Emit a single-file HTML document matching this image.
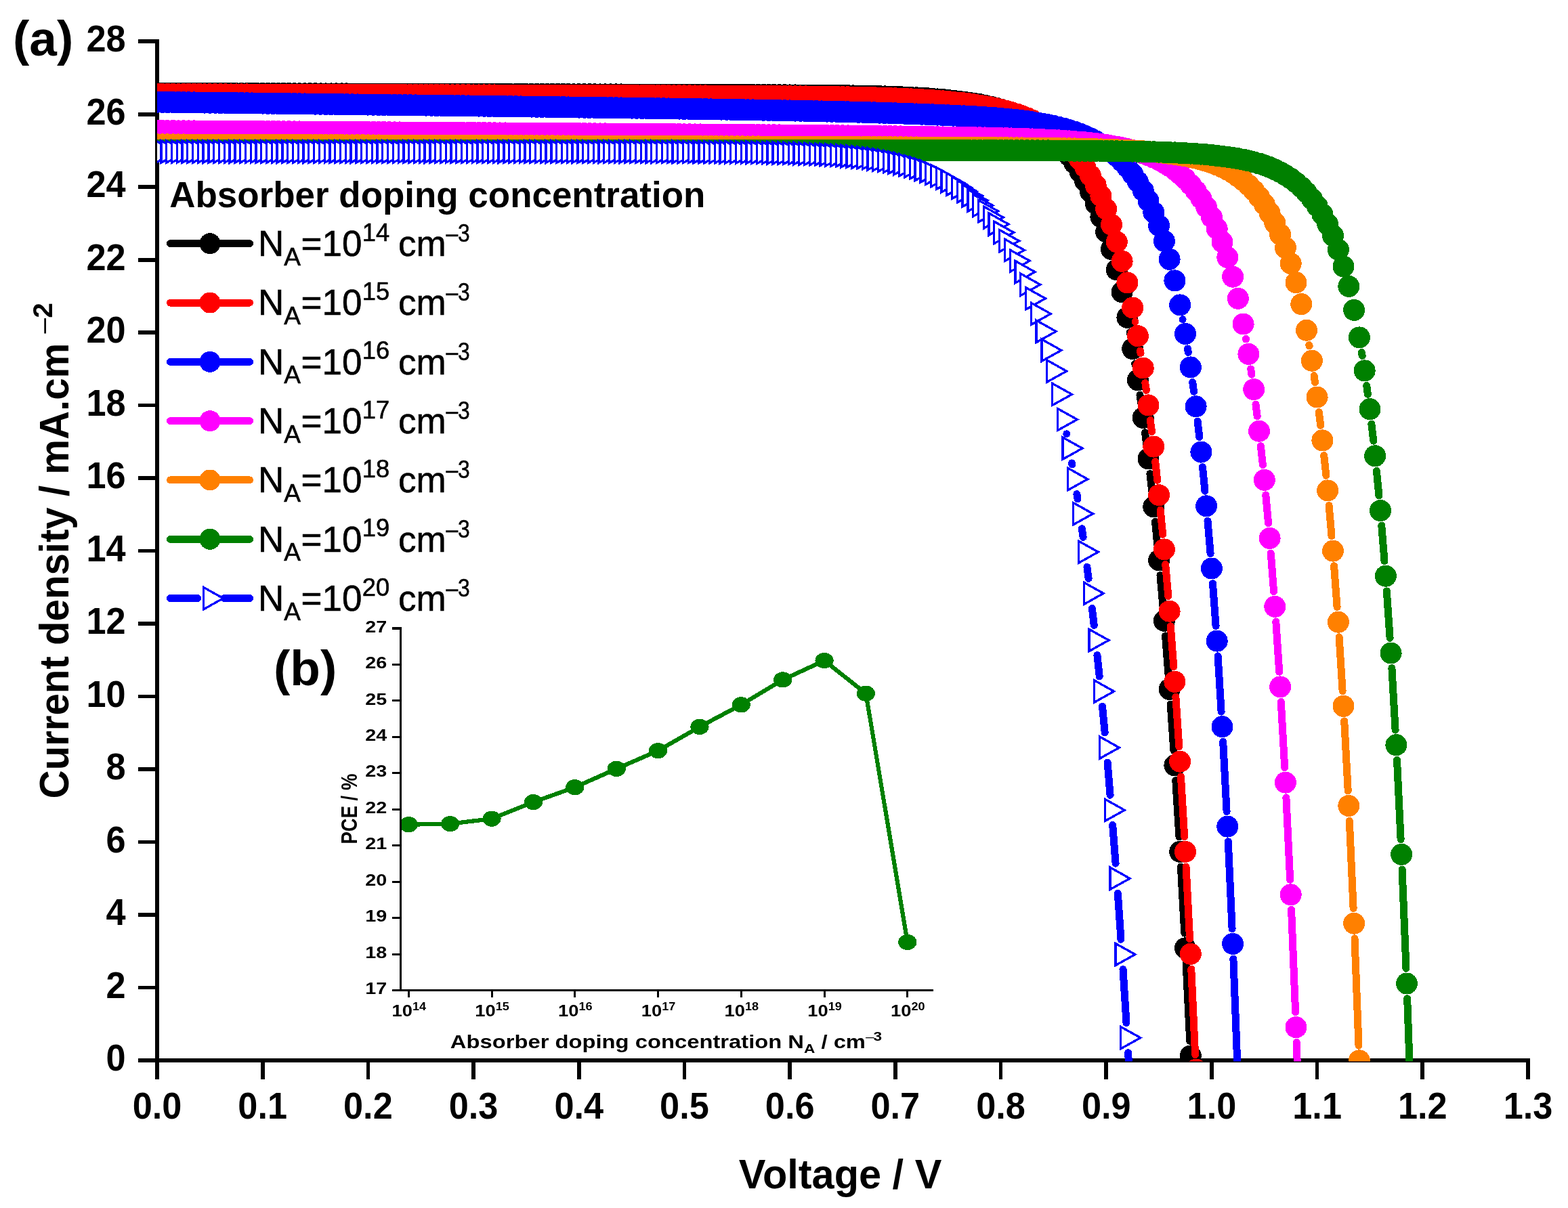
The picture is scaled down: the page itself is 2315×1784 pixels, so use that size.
<!DOCTYPE html>
<html lang="en"><head><meta charset="utf-8"><title>J-V curves: absorber doping concentration</title>
<style>html,body{margin:0;padding:0;background:#fff}body{width:2315px;height:1784px}svg{display:block}text{font-family:"Liberation Sans", sans-serif;fill:#000}.b{font-weight:700}</style>
</head><body>
<svg width="2315" height="1784" viewBox="0 0 2315 1784" shape-rendering="crispEdges">
<defs><clipPath id="cp"><rect x="232" y="0" width="2083" height="1567.4"/></clipPath><clipPath id="ci"><rect x="593" y="900" width="900" height="561"/></clipPath>
<path id="t" d="M-9.7 -16.2L19.3 0L-9.7 16.2Z" fill="#fff" stroke="#00f" stroke-width="3.3" stroke-linejoin="miter"/></defs>
<rect width="2315" height="1784" fill="#fff"/>
<path d="M232 58.4V1594M204 1566H2258.9M204 1458.51H232M204 1351.03H232M204 1243.54H232M204 1136.06H232M204 1028.57H232M204 921.09H232M204 813.6H232M204 706.11H232M204 598.63H232M204 491.14H232M204 383.66H232M204 276.17H232M204 168.69H232M204 61.2H232M387.69 1566V1594M543.38 1566V1594M699.08 1566V1594M854.77 1566V1594M1010.46 1566V1594M1166.15 1566V1594M1321.85 1566V1594M1477.54 1566V1594M1633.23 1566V1594M1788.92 1566V1594M1944.62 1566V1594M2100.31 1566V1594M2256 1566V1594" fill="none" stroke="#000" stroke-width="5.7" stroke-linecap="butt"/>
<g class="b" font-size="56" text-anchor="end">
<text transform="translate(185.6 1581) scale(0.934 1)">0</text>
<text transform="translate(185.6 1473.51) scale(0.934 1)">2</text>
<text transform="translate(185.6 1366.03) scale(0.934 1)">4</text>
<text transform="translate(185.6 1258.54) scale(0.934 1)">6</text>
<text transform="translate(185.6 1151.06) scale(0.934 1)">8</text>
<text transform="translate(185.6 1043.57) scale(0.934 1)">10</text>
<text transform="translate(185.6 936.09) scale(0.934 1)">12</text>
<text transform="translate(185.6 828.6) scale(0.934 1)">14</text>
<text transform="translate(185.6 721.11) scale(0.934 1)">16</text>
<text transform="translate(185.6 613.63) scale(0.934 1)">18</text>
<text transform="translate(185.6 506.14) scale(0.934 1)">20</text>
<text transform="translate(185.6 398.66) scale(0.934 1)">22</text>
<text transform="translate(185.6 291.17) scale(0.934 1)">24</text>
<text transform="translate(185.6 183.69) scale(0.934 1)">26</text>
<text transform="translate(185.6 76.2) scale(0.934 1)">28</text>
</g>
<g class="b" font-size="56" text-anchor="middle">
<text transform="translate(232 1651.9) scale(0.934 1)">0.0</text>
<text transform="translate(387.69 1651.9) scale(0.934 1)">0.1</text>
<text transform="translate(543.38 1651.9) scale(0.934 1)">0.2</text>
<text transform="translate(699.08 1651.9) scale(0.934 1)">0.3</text>
<text transform="translate(854.77 1651.9) scale(0.934 1)">0.4</text>
<text transform="translate(1010.46 1651.9) scale(0.934 1)">0.5</text>
<text transform="translate(1166.15 1651.9) scale(0.934 1)">0.6</text>
<text transform="translate(1321.85 1651.9) scale(0.934 1)">0.7</text>
<text transform="translate(1477.54 1651.9) scale(0.934 1)">0.8</text>
<text transform="translate(1633.23 1651.9) scale(0.934 1)">0.9</text>
<text transform="translate(1788.92 1651.9) scale(0.934 1)">1.0</text>
<text transform="translate(1944.62 1651.9) scale(0.934 1)">1.1</text>
<text transform="translate(2100.31 1651.9) scale(0.934 1)">1.2</text>
<text transform="translate(2256 1651.9) scale(0.934 1)">1.3</text>
</g>
<text class="b" font-size="61" text-anchor="middle" transform="translate(1240.5 1754.5) scale(0.975 1)">Voltage / V</text>
<text class="b" font-size="61" transform="translate(101.2 1179.4) rotate(-90) scale(0.9544 1)">Current density / mA.cm</text>
<text class="b" font-size="40.5" transform="translate(76.9 492.4) rotate(-90)"><tspan font-weight="400">–</tspan>2</text>
<text class="b" font-size="73" x="19" y="82.4">(a)</text>
<g clip-path="url(#cp)">
<path d="M1668.1 490.8L1668.5 493.2M1675.8 537L1676.3 539.5M1683 583.3L1684.6 594.8M1690.5 638.8L1692.7 655.4M1697.9 699.5L1700.9 726.3M1705.5 770.5L1708.9 805.3M1713 849.5L1716.9 894.7M1720.6 939L1724.9 995.7M1728.2 1040L1732.9 1108.3M1735.8 1152.6L1740.9 1235.8M1743.4 1280.1L1748.8 1378.2M1751.1 1422.5L1756.7 1537.3M1758.8 1581.6L1764.6 1715" fill="none" stroke="#000" stroke-width="11" stroke-linecap="round"/>
<path d="M232 137.8h0M239.8 137.8h0M247.6 137.8h0M255.4 137.8h0M263.1 137.8h0M270.9 137.9h0M278.7 137.9h0M286.5 137.9h0M294.3 137.9h0M302.1 137.9h0M309.8 138h0M317.6 138h0M325.4 138h0M333.2 138h0M341 138h0M348.8 138.1h0M356.6 138.1h0M364.3 138.1h0M372.1 138.1h0M379.9 138.1h0M387.7 138.1h0M395.5 138.2h0M403.3 138.2h0M411 138.2h0M418.8 138.2h0M426.6 138.2h0M434.4 138.3h0M442.2 138.3h0M450 138.3h0M457.8 138.3h0M465.5 138.3h0M473.3 138.4h0M481.1 138.4h0M488.9 138.4h0M496.7 138.4h0M504.5 138.4h0M512.2 138.4h0M520 138.5h0M527.8 138.5h0M535.6 138.5h0M543.4 138.5h0M551.2 138.5h0M559 138.6h0M566.7 138.6h0M574.5 138.6h0M582.3 138.6h0M590.1 138.6h0M597.9 138.7h0M605.7 138.7h0M613.4 138.7h0M621.2 138.7h0M629 138.7h0M636.8 138.8h0M644.6 138.8h0M652.4 138.8h0M660.2 138.8h0M667.9 138.8h0M675.7 138.8h0M683.5 138.9h0M691.3 138.9h0M699.1 138.9h0M706.9 138.9h0M714.6 138.9h0M722.4 139h0M730.2 139h0M738 139h0M745.8 139h0M753.6 139h0M761.4 139.1h0M769.1 139.1h0M776.9 139.1h0M784.7 139.1h0M792.5 139.1h0M800.3 139.2h0M808.1 139.2h0M815.8 139.2h0M823.6 139.2h0M831.4 139.2h0M839.2 139.2h0M847 139.3h0M854.8 139.3h0M862.6 139.3h0M870.3 139.3h0M878.1 139.3h0M885.9 139.4h0M893.7 139.4h0M901.5 139.4h0M909.3 139.4h0M917 139.4h0M924.8 139.5h0M932.6 139.5h0M940.4 139.5h0M948.2 139.5h0M956 139.5h0M963.8 139.6h0M971.5 139.6h0M979.3 139.6h0M987.1 139.6h0M994.9 139.7h0M1002.7 139.7h0M1010.5 139.7h0M1018.2 139.7h0M1026 139.7h0M1033.8 139.8h0M1041.6 139.8h0M1049.4 139.8h0M1057.2 139.8h0M1065 139.9h0M1072.7 139.9h0M1080.5 139.9h0M1088.3 140h0M1096.1 140h0M1103.9 140h0M1111.7 140.1h0M1119.4 140.1h0M1127.2 140.1h0M1135 140.2h0M1142.8 140.2h0M1150.6 140.3h0M1158.4 140.3h0M1166.2 140.4h0M1173.9 140.4h0M1181.7 140.5h0M1189.5 140.5h0M1197.3 140.6h0M1205.1 140.7h0M1212.9 140.7h0M1220.6 140.8h0M1228.4 140.9h0M1236.2 141h0M1244 141.1h0M1251.8 141.2h0M1259.6 141.4h0M1267.4 141.5h0M1275.1 141.7h0M1282.9 141.8h0M1290.7 142h0M1298.5 142.2h0M1306.3 142.4h0M1314.1 142.7h0M1321.8 142.9h0M1329.6 143.2h0M1337.4 143.6h0M1345.2 143.9h0M1353 144.3h0M1360.8 144.8h0M1368.6 145.2h0M1376.3 145.8h0M1384.1 146.4h0M1391.9 147h0M1399.7 147.8h0M1407.5 148.6h0M1415.3 149.5h0M1423 150.5h0M1430.8 151.6h0M1438.6 152.8h0M1446.4 154.2h0M1454.2 155.7h0M1462 157.5h0M1469.8 159.4h0M1477.5 161.5h0M1485.3 163.9h0M1493.1 166.6h0M1500.9 169.7h0M1508.7 173.1h0M1516.5 176.9h0M1524.2 181.1h0M1532 185.9h0M1539.8 191.3h0M1547.6 197.4h0M1555.4 204.2h0M1563.2 211.8h0M1571 220.4h0M1578.7 230.1h0M1586.5 241h0M1594.3 253.3h0M1602.1 267.2h0M1609.9 282.9h0M1617.7 300.5h0M1625.4 320.5h0M1633.2 342.5h0M1641 368.1h0M1648.8 398.4h0M1656.6 431.3h0M1664.4 468.9h0M1672.2 515.1h0M1679.9 561.4h0M1687.7 616.8h0M1695.5 677.4h0M1703.3 748.4h0M1711.1 827.4h0M1718.9 916.8h0M1726.6 1017.8h0M1734.4 1130.4h0M1742.2 1257.9h0M1750 1400.3h0M1757.8 1559.4h0M1765.6 1737.2h0" fill="none" stroke="#000" stroke-width="32" stroke-linecap="round"/>
<path d="M1676 475.3L1676 475.3M1683.5 518.1L1684.1 521.6M1690.8 565.5L1692.4 576.5M1698.3 620.5L1700.5 637.5M1705.7 681.6L1708.7 709.2M1713.2 753.3L1716.7 789.3M1720.7 833.5L1724.8 880.5M1728.3 924.8L1732.8 984.7M1735.9 1029L1740.8 1102.6M1743.5 1146.9L1748.7 1235.8M1751.1 1280.1L1756.6 1386.6M1758.8 1431L1764.6 1557.5" fill="none" stroke="#f00" stroke-width="11" stroke-linecap="round"/>
<path d="M232 139.1h0M239.8 139.1h0M247.6 139.1h0M255.4 139.1h0M263.1 139.2h0M270.9 139.2h0M278.7 139.2h0M286.5 139.2h0M294.3 139.2h0M302.1 139.3h0M309.8 139.3h0M317.6 139.3h0M325.4 139.3h0M333.2 139.3h0M341 139.4h0M348.8 139.4h0M356.6 139.4h0M364.3 139.4h0M372.1 139.5h0M379.9 139.5h0M387.7 139.5h0M395.5 139.5h0M403.3 139.5h0M411 139.6h0M418.8 139.6h0M426.6 139.6h0M434.4 139.6h0M442.2 139.6h0M450 139.7h0M457.8 139.7h0M465.5 139.7h0M473.3 139.7h0M481.1 139.8h0M488.9 139.8h0M496.7 139.8h0M504.5 139.8h0M512.2 139.8h0M520 139.9h0M527.8 139.9h0M535.6 139.9h0M543.4 139.9h0M551.2 139.9h0M559 140h0M566.7 140h0M574.5 140h0M582.3 140h0M590.1 140.1h0M597.9 140.1h0M605.7 140.1h0M613.4 140.1h0M621.2 140.1h0M629 140.2h0M636.8 140.2h0M644.6 140.2h0M652.4 140.2h0M660.2 140.2h0M667.9 140.3h0M675.7 140.3h0M683.5 140.3h0M691.3 140.3h0M699.1 140.4h0M706.9 140.4h0M714.6 140.4h0M722.4 140.4h0M730.2 140.4h0M738 140.5h0M745.8 140.5h0M753.6 140.5h0M761.4 140.5h0M769.1 140.6h0M776.9 140.6h0M784.7 140.6h0M792.5 140.6h0M800.3 140.6h0M808.1 140.7h0M815.8 140.7h0M823.6 140.7h0M831.4 140.7h0M839.2 140.8h0M847 140.8h0M854.8 140.8h0M862.6 140.8h0M870.3 140.8h0M878.1 140.9h0M885.9 140.9h0M893.7 140.9h0M901.5 140.9h0M909.3 141h0M917 141h0M924.8 141h0M932.6 141h0M940.4 141.1h0M948.2 141.1h0M956 141.1h0M963.8 141.1h0M971.5 141.2h0M979.3 141.2h0M987.1 141.2h0M994.9 141.3h0M1002.7 141.3h0M1010.5 141.3h0M1018.2 141.3h0M1026 141.4h0M1033.8 141.4h0M1041.6 141.4h0M1049.4 141.5h0M1057.2 141.5h0M1065 141.5h0M1072.7 141.6h0M1080.5 141.6h0M1088.3 141.7h0M1096.1 141.7h0M1103.9 141.7h0M1111.7 141.8h0M1119.4 141.8h0M1127.2 141.9h0M1135 142h0M1142.8 142h0M1150.6 142.1h0M1158.4 142.1h0M1166.2 142.2h0M1173.9 142.3h0M1181.7 142.4h0M1189.5 142.4h0M1197.3 142.5h0M1205.1 142.6h0M1212.9 142.7h0M1220.6 142.8h0M1228.4 142.9h0M1236.2 143.1h0M1244 143.2h0M1251.8 143.3h0M1259.6 143.5h0M1267.4 143.7h0M1275.1 143.8h0M1282.9 144h0M1290.7 144.2h0M1298.5 144.5h0M1306.3 144.7h0M1314.1 145h0M1321.8 145.3h0M1329.6 145.6h0M1337.4 145.9h0M1345.2 146.3h0M1353 146.7h0M1360.8 147.1h0M1368.6 147.6h0M1376.3 148.1h0M1384.1 148.7h0M1391.9 149.3h0M1399.7 149.9h0M1407.5 150.7h0M1415.3 151.5h0M1423 152.3h0M1430.8 153.3h0M1438.6 154.4h0M1446.4 155.6h0M1454.2 156.9h0M1462 158.3h0M1469.8 159.9h0M1477.5 161.7h0M1485.3 163.7h0M1493.1 166h0M1500.9 168.4h0M1508.7 171.2h0M1516.5 174.3h0M1524.2 177.7h0M1532 181.6h0M1539.8 185.9h0M1547.6 190.8h0M1555.4 196.2h0M1563.2 202.4h0M1571 209.2h0M1578.7 217h0M1586.5 225.7h0M1594.3 235.6h0M1602.1 246.7h0M1609.9 259.3h0M1617.7 273.5h0M1625.4 289.6h0M1633.2 308.8h0M1641 331.7h0M1648.8 357.3h0M1656.6 385.8h0M1664.4 417.4h0M1672.2 454.5h0M1679.9 496.2h0M1687.7 543.5h0M1695.5 598.4h0M1703.3 659.6h0M1711.1 731.2h0M1718.9 811.4h0M1726.6 902.7h0M1734.4 1006.8h0M1742.2 1124.7h0M1750 1257.9h0M1757.8 1408.8h0M1765.6 1579.7h0" fill="none" stroke="#f00" stroke-width="32" stroke-linecap="round"/>
<path d="M1746.1 471.7L1746.1 471.7M1753.5 514.9L1754.3 520.4M1760.7 564.4L1762.6 578.3M1768.1 622.3L1770.8 645.5M1775.5 689.7L1779 725.2M1783 769.4L1787.1 817.4M1790.5 861.7L1795.1 924.5M1798.1 968.8L1803.1 1051.1M1805.7 1095.4L1811.1 1198.4M1813.3 1242.8L1819.1 1371.7M1820.9 1416.1L1827 1575.5" fill="none" stroke="#00f" stroke-width="11" stroke-linecap="round"/>
<path d="M232 150.7h0M239.8 150.8h0M247.6 150.9h0M255.4 151h0M263.1 151.1h0M270.9 151.2h0M278.7 151.3h0M286.5 151.4h0M294.3 151.5h0M302.1 151.6h0M309.8 151.7h0M317.6 151.7h0M325.4 151.8h0M333.2 151.9h0M341 152h0M348.8 152.1h0M356.6 152.2h0M364.3 152.3h0M372.1 152.4h0M379.9 152.5h0M387.7 152.6h0M395.5 152.7h0M403.3 152.8h0M411 152.9h0M418.8 153h0M426.6 153.1h0M434.4 153.2h0M442.2 153.3h0M450 153.4h0M457.8 153.5h0M465.5 153.6h0M473.3 153.7h0M481.1 153.8h0M488.9 153.9h0M496.7 154h0M504.5 154.1h0M512.2 154.2h0M520 154.3h0M527.8 154.4h0M535.6 154.5h0M543.4 154.6h0M551.2 154.7h0M559 154.8h0M566.7 154.9h0M574.5 155h0M582.3 155.1h0M590.1 155.2h0M597.9 155.2h0M605.7 155.3h0M613.4 155.4h0M621.2 155.5h0M629 155.6h0M636.8 155.7h0M644.6 155.8h0M652.4 155.9h0M660.2 156h0M667.9 156.1h0M675.7 156.2h0M683.5 156.3h0M691.3 156.4h0M699.1 156.5h0M706.9 156.6h0M714.6 156.7h0M722.4 156.8h0M730.2 156.9h0M738 157h0M745.8 157.1h0M753.6 157.2h0M761.4 157.3h0M769.1 157.4h0M776.9 157.5h0M784.7 157.6h0M792.5 157.7h0M800.3 157.8h0M808.1 157.9h0M815.8 158h0M823.6 158.1h0M831.4 158.2h0M839.2 158.4h0M847 158.5h0M854.8 158.6h0M862.6 158.7h0M870.3 158.8h0M878.1 158.9h0M885.9 159h0M893.7 159.1h0M901.5 159.2h0M909.3 159.3h0M917 159.4h0M924.8 159.5h0M932.6 159.6h0M940.4 159.7h0M948.2 159.8h0M956 160h0M963.8 160.1h0M971.5 160.2h0M979.3 160.3h0M987.1 160.4h0M994.9 160.5h0M1002.7 160.6h0M1010.5 160.8h0M1018.2 160.9h0M1026 161h0M1033.8 161.1h0M1041.6 161.2h0M1049.4 161.4h0M1057.2 161.5h0M1065 161.6h0M1072.7 161.7h0M1080.5 161.9h0M1088.3 162h0M1096.1 162.1h0M1103.9 162.3h0M1111.7 162.4h0M1119.4 162.5h0M1127.2 162.7h0M1135 162.8h0M1142.8 163h0M1150.6 163.1h0M1158.4 163.3h0M1166.2 163.4h0M1173.9 163.6h0M1181.7 163.7h0M1189.5 163.9h0M1197.3 164h0M1205.1 164.2h0M1212.9 164.4h0M1220.6 164.6h0M1228.4 164.7h0M1236.2 164.9h0M1244 165.1h0M1251.8 165.3h0M1259.6 165.5h0M1267.4 165.7h0M1275.1 165.9h0M1282.9 166.1h0M1290.7 166.3h0M1298.5 166.6h0M1306.3 166.8h0M1314.1 167h0M1321.8 167.3h0M1329.6 167.5h0M1337.4 167.8h0M1345.2 168.1h0M1353 168.4h0M1360.8 168.7h0M1368.6 169h0M1376.3 169.3h0M1384.1 169.6h0M1391.9 169.9h0M1399.7 170.3h0M1407.5 170.6h0M1415.3 171h0M1423 171.3h0M1430.8 171.7h0M1438.6 172.2h0M1446.4 172.6h0M1454.2 173.2h0M1462 173.7h0M1469.8 174.3h0M1477.5 174.9h0M1485.3 175.6h0M1493.1 176.4h0M1500.9 177.2h0M1508.7 178.1h0M1516.5 179.1h0M1524.2 180.3h0M1532 181.5h0M1539.8 182.8h0M1547.6 184.3h0M1555.4 185.9h0M1563.2 187.8h0M1571 189.8h0M1578.7 192.1h0M1586.5 194.6h0M1594.3 197.5h0M1602.1 200.7h0M1609.9 204.2h0M1617.7 208.3h0M1625.4 212.9h0M1633.2 218.1h0M1641 224h0M1648.8 230.6h0M1656.6 238.3h0M1664.4 246.9h0M1672.2 256.9h0M1679.9 268.3h0M1687.7 281.3h0M1695.5 296.4h0M1703.3 313.7h0M1711.1 333.2h0M1718.9 356h0M1726.6 382.8h0M1734.4 414.4h0M1742.2 450.4h0M1750 492.9h0M1757.8 542.4h0M1765.6 600.3h0M1773.4 667.6h0M1781.1 747.3h0M1788.9 839.5h0M1796.7 946.6h0M1804.5 1073.2h0M1812.3 1220.6h0M1820.1 1393.9h0M1827.8 1597.7h0" fill="none" stroke="#00f" stroke-width="32" stroke-linecap="round"/>
<path d="M1839.5 500.4L1839.6 501M1846.7 544.9L1847.9 553.1M1854 597.1L1856.2 614.7M1861.4 658.7L1864.4 686.7M1868.8 730.9L1872.6 772.8M1876.3 817L1880.6 873.7M1883.8 917.9L1888.7 992.2M1891.3 1036.5L1896.7 1133.5M1898.9 1177.8L1904.7 1299.2M1906.6 1343.5L1912.6 1494.9M1914.2 1539.3L1920.5 1726.1" fill="none" stroke="#f0f" stroke-width="11" stroke-linecap="round"/>
<path d="M232 193.1h0M239.8 193.1h0M247.6 193.2h0M255.4 193.2h0M263.1 193.3h0M270.9 193.3h0M278.7 193.4h0M286.5 193.4h0M294.3 193.5h0M302.1 193.5h0M309.8 193.6h0M317.6 193.6h0M325.4 193.7h0M333.2 193.7h0M341 193.8h0M348.8 193.8h0M356.6 193.9h0M364.3 193.9h0M372.1 194h0M379.9 194h0M387.7 194.1h0M395.5 194.1h0M403.3 194.2h0M411 194.2h0M418.8 194.3h0M426.6 194.3h0M434.4 194.4h0M442.2 194.4h0M450 194.5h0M457.8 194.5h0M465.5 194.6h0M473.3 194.6h0M481.1 194.7h0M488.9 194.7h0M496.7 194.8h0M504.5 194.8h0M512.2 194.9h0M520 194.9h0M527.8 195h0M535.6 195h0M543.4 195.1h0M551.2 195.1h0M559 195.2h0M566.7 195.2h0M574.5 195.3h0M582.3 195.4h0M590.1 195.4h0M597.9 195.5h0M605.7 195.5h0M613.4 195.6h0M621.2 195.6h0M629 195.7h0M636.8 195.7h0M644.6 195.8h0M652.4 195.8h0M660.2 195.9h0M667.9 195.9h0M675.7 196h0M683.5 196h0M691.3 196.1h0M699.1 196.1h0M706.9 196.2h0M714.6 196.2h0M722.4 196.3h0M730.2 196.3h0M738 196.4h0M745.8 196.4h0M753.6 196.5h0M761.4 196.5h0M769.1 196.6h0M776.9 196.6h0M784.7 196.7h0M792.5 196.7h0M800.3 196.8h0M808.1 196.8h0M815.8 196.9h0M823.6 196.9h0M831.4 197h0M839.2 197h0M847 197.1h0M854.8 197.2h0M862.6 197.2h0M870.3 197.3h0M878.1 197.3h0M885.9 197.4h0M893.7 197.4h0M901.5 197.5h0M909.3 197.5h0M917 197.6h0M924.8 197.6h0M932.6 197.7h0M940.4 197.8h0M948.2 197.8h0M956 197.9h0M963.8 197.9h0M971.5 198h0M979.3 198h0M987.1 198.1h0M994.9 198.1h0M1002.7 198.2h0M1010.5 198.3h0M1018.2 198.3h0M1026 198.4h0M1033.8 198.4h0M1041.6 198.5h0M1049.4 198.6h0M1057.2 198.6h0M1065 198.7h0M1072.7 198.7h0M1080.5 198.8h0M1088.3 198.9h0M1096.1 198.9h0M1103.9 199h0M1111.7 199.1h0M1119.4 199.1h0M1127.2 199.2h0M1135 199.3h0M1142.8 199.3h0M1150.6 199.4h0M1158.4 199.5h0M1166.2 199.5h0M1173.9 199.6h0M1181.7 199.7h0M1189.5 199.8h0M1197.3 199.8h0M1205.1 199.9h0M1212.9 200h0M1220.6 200.1h0M1228.4 200.1h0M1236.2 200.2h0M1244 200.3h0M1251.8 200.4h0M1259.6 200.5h0M1267.4 200.6h0M1275.1 200.7h0M1282.9 200.8h0M1290.7 200.9h0M1298.5 201h0M1306.3 201.1h0M1314.1 201.2h0M1321.8 201.3h0M1329.6 201.4h0M1337.4 201.5h0M1345.2 201.6h0M1353 201.7h0M1360.8 201.9h0M1368.6 202h0M1376.3 202.1h0M1384.1 202.2h0M1391.9 202.4h0M1399.7 202.5h0M1407.5 202.6h0M1415.3 202.8h0M1423 202.9h0M1430.8 203h0M1438.6 203.1h0M1446.4 203.3h0M1454.2 203.4h0M1462 203.6h0M1469.8 203.8h0M1477.5 204h0M1485.3 204.2h0M1493.1 204.4h0M1500.9 204.6h0M1508.7 204.9h0M1516.5 205.1h0M1524.2 205.4h0M1532 205.8h0M1539.8 206.1h0M1547.6 206.5h0M1555.4 206.9h0M1563.2 207.3h0M1571 207.8h0M1578.7 208.4h0M1586.5 209h0M1594.3 209.6h0M1602.1 210.3h0M1609.9 211.1h0M1617.7 212h0M1625.4 213h0M1633.2 214.1h0M1641 215.4h0M1648.8 216.7h0M1656.6 218.3h0M1664.4 220h0M1672.2 222h0M1679.9 224.2h0M1687.7 226.7h0M1695.5 229.5h0M1703.3 232.7h0M1711.1 236.4h0M1718.9 240.6h0M1726.6 245.3h0M1734.4 250.8h0M1742.2 257h0M1750 264.2h0M1757.8 272.5h0M1765.6 282h0M1773.4 293h0M1781.1 305.8h0M1788.9 320.5h0M1796.7 337.7h0M1804.5 357.2h0M1812.3 380.1h0M1820.1 408.7h0M1827.8 440.8h0M1835.6 478.5h0M1843.4 522.9h0M1851.2 575.1h0M1859 636.7h0M1866.8 708.8h0M1874.6 794.9h0M1882.3 895.8h0M1890.1 1014.4h0M1897.9 1155.6h0M1905.7 1321.3h0M1913.5 1517.1h0M1921.3 1748.3h0" fill="none" stroke="#f0f" stroke-width="32" stroke-linecap="round"/>
<path d="M1932.8 509.6L1933.1 510.9M1940 554.7L1941.4 564.6M1947.3 608.6L1949.7 628.4M1954.7 672.5L1957.9 702.3M1962.1 746.5L1966 791.5M1969.6 835.8L1974.1 896.5M1977.1 940.8L1982.1 1020.6M1984.7 1064.9L1990.2 1167.8M1992.3 1212.2L1998.1 1341.5M2000 1385.9L2006 1544.1M2007.6 1588.5L2013.9 1780.4" fill="none" stroke="#ff8000" stroke-width="11" stroke-linecap="round"/>
<path d="M232 213.3h0M239.8 213.3h0M247.6 213.3h0M255.4 213.4h0M263.1 213.4h0M270.9 213.4h0M278.7 213.5h0M286.5 213.5h0M294.3 213.5h0M302.1 213.5h0M309.8 213.6h0M317.6 213.6h0M325.4 213.6h0M333.2 213.6h0M341 213.7h0M348.8 213.7h0M356.6 213.7h0M364.3 213.7h0M372.1 213.8h0M379.9 213.8h0M387.7 213.8h0M395.5 213.9h0M403.3 213.9h0M411 213.9h0M418.8 213.9h0M426.6 214h0M434.4 214h0M442.2 214h0M450 214h0M457.8 214.1h0M465.5 214.1h0M473.3 214.1h0M481.1 214.2h0M488.9 214.2h0M496.7 214.2h0M504.5 214.2h0M512.2 214.3h0M520 214.3h0M527.8 214.3h0M535.6 214.3h0M543.4 214.4h0M551.2 214.4h0M559 214.4h0M566.7 214.5h0M574.5 214.5h0M582.3 214.5h0M590.1 214.5h0M597.9 214.6h0M605.7 214.6h0M613.4 214.6h0M621.2 214.6h0M629 214.7h0M636.8 214.7h0M644.6 214.7h0M652.4 214.8h0M660.2 214.8h0M667.9 214.8h0M675.7 214.8h0M683.5 214.9h0M691.3 214.9h0M699.1 214.9h0M706.9 214.9h0M714.6 215h0M722.4 215h0M730.2 215h0M738 215.1h0M745.8 215.1h0M753.6 215.1h0M761.4 215.1h0M769.1 215.2h0M776.9 215.2h0M784.7 215.2h0M792.5 215.3h0M800.3 215.3h0M808.1 215.3h0M815.8 215.3h0M823.6 215.4h0M831.4 215.4h0M839.2 215.4h0M847 215.4h0M854.8 215.5h0M862.6 215.5h0M870.3 215.5h0M878.1 215.6h0M885.9 215.6h0M893.7 215.6h0M901.5 215.6h0M909.3 215.7h0M917 215.7h0M924.8 215.7h0M932.6 215.8h0M940.4 215.8h0M948.2 215.8h0M956 215.8h0M963.8 215.9h0M971.5 215.9h0M979.3 215.9h0M987.1 215.9h0M994.9 216h0M1002.7 216h0M1010.5 216h0M1018.2 216.1h0M1026 216.1h0M1033.8 216.1h0M1041.6 216.1h0M1049.4 216.2h0M1057.2 216.2h0M1065 216.2h0M1072.7 216.3h0M1080.5 216.3h0M1088.3 216.3h0M1096.1 216.3h0M1103.9 216.4h0M1111.7 216.4h0M1119.4 216.4h0M1127.2 216.5h0M1135 216.5h0M1142.8 216.5h0M1150.6 216.6h0M1158.4 216.6h0M1166.2 216.6h0M1173.9 216.6h0M1181.7 216.7h0M1189.5 216.7h0M1197.3 216.7h0M1205.1 216.8h0M1212.9 216.8h0M1220.6 216.8h0M1228.4 216.9h0M1236.2 216.9h0M1244 216.9h0M1251.8 217h0M1259.6 217h0M1267.4 217h0M1275.1 217.1h0M1282.9 217.1h0M1290.7 217.1h0M1298.5 217.2h0M1306.3 217.2h0M1314.1 217.2h0M1321.8 217.3h0M1329.6 217.3h0M1337.4 217.4h0M1345.2 217.4h0M1353 217.4h0M1360.8 217.5h0M1368.6 217.5h0M1376.3 217.5h0M1384.1 217.6h0M1391.9 217.6h0M1399.7 217.7h0M1407.5 217.7h0M1415.3 217.8h0M1423 217.8h0M1430.8 217.8h0M1438.6 217.9h0M1446.4 217.9h0M1454.2 218h0M1462 218h0M1469.8 218.1h0M1477.5 218.2h0M1485.3 218.2h0M1493.1 218.3h0M1500.9 218.3h0M1508.7 218.4h0M1516.5 218.5h0M1524.2 218.6h0M1532 218.7h0M1539.8 218.7h0M1547.6 218.8h0M1555.4 218.9h0M1563.2 219.1h0M1571 219.2h0M1578.7 219.3h0M1586.5 219.4h0M1594.3 219.6h0M1602.1 219.8h0M1609.9 220h0M1617.7 220.2h0M1625.4 220.4h0M1633.2 220.6h0M1641 220.9h0M1648.8 221.2h0M1656.6 221.5h0M1664.4 221.9h0M1672.2 222.3h0M1679.9 222.7h0M1687.7 223.3h0M1695.5 223.8h0M1703.3 224.5h0M1711.1 225.2h0M1718.9 226h0M1726.6 226.9h0M1734.4 228h0M1742.2 229.1h0M1750 230.5h0M1757.8 232h0M1765.6 233.7h0M1773.4 235.7h0M1781.1 237.9h0M1788.9 240.5h0M1796.7 243.5h0M1804.5 246.9h0M1812.3 250.8h0M1820.1 255.3h0M1827.8 260.5h0M1835.6 266.5h0M1843.4 273.5h0M1851.2 281.5h0M1859 290.9h0M1866.8 301.8h0M1874.6 314.4h0M1882.3 329.2h0M1890.1 346.4h0M1897.9 365.9h0M1905.7 389.2h0M1913.5 417.2h0M1921.3 449.2h0M1929 487.7h0M1936.8 532.7h0M1944.6 586.5h0M1952.4 650.4h0M1960.2 724.4h0M1968 813.6h0M1975.8 918.7h0M1983.5 1042.8h0M1991.3 1190h0M1999.1 1363.7h0M2006.9 1566.3h0M2014.7 1802.6h0" fill="none" stroke="#ff8000" stroke-width="32" stroke-linecap="round"/>
<path d="M2010.4 520.4L2011.2 525.5M2017.7 569.4L2019.4 582.2M2024.9 626.2L2027.8 651.2M2032.4 695.4L2035.9 732M2039.8 776.2L2044 828.6M2047.3 872.9L2052.1 942.3M2054.9 986.6L2060.1 1078.1M2062.5 1122.4L2068.1 1239.6M2070.1 1284L2076 1430.3M2077.7 1474.7L2084 1655.4" fill="none" stroke="#008000" stroke-width="11" stroke-linecap="round"/>
<path d="M232 221.9h0M239.8 221.9h0M247.6 221.9h0M255.4 221.9h0M263.1 221.9h0M270.9 221.9h0M278.7 221.9h0M286.5 221.9h0M294.3 221.9h0M302.1 221.9h0M309.8 221.9h0M317.6 221.9h0M325.4 221.9h0M333.2 221.9h0M341 221.9h0M348.8 221.9h0M356.6 221.9h0M364.3 221.9h0M372.1 221.9h0M379.9 221.9h0M387.7 221.9h0M395.5 221.9h0M403.3 221.9h0M411 221.9h0M418.8 221.9h0M426.6 221.9h0M434.4 221.9h0M442.2 221.9h0M450 221.9h0M457.8 221.9h0M465.5 221.9h0M473.3 221.9h0M481.1 221.9h0M488.9 221.9h0M496.7 221.9h0M504.5 221.9h0M512.2 221.9h0M520 221.9h0M527.8 221.9h0M535.6 221.9h0M543.4 221.9h0M551.2 221.9h0M559 221.9h0M566.7 221.9h0M574.5 221.9h0M582.3 221.9h0M590.1 221.9h0M597.9 221.9h0M605.7 221.9h0M613.4 221.9h0M621.2 221.9h0M629 221.9h0M636.8 221.9h0M644.6 221.9h0M652.4 221.9h0M660.2 221.9h0M667.9 221.9h0M675.7 221.9h0M683.5 221.9h0M691.3 221.9h0M699.1 221.9h0M706.9 221.9h0M714.6 221.9h0M722.4 221.9h0M730.2 221.9h0M738 221.9h0M745.8 221.9h0M753.6 221.9h0M761.4 221.9h0M769.1 221.9h0M776.9 221.9h0M784.7 221.9h0M792.5 221.9h0M800.3 221.9h0M808.1 221.9h0M815.8 221.9h0M823.6 221.9h0M831.4 221.9h0M839.2 221.9h0M847 221.9h0M854.8 221.9h0M862.6 221.9h0M870.3 221.9h0M878.1 221.9h0M885.9 221.9h0M893.7 221.9h0M901.5 221.9h0M909.3 221.9h0M917 221.9h0M924.8 221.9h0M932.6 221.9h0M940.4 221.9h0M948.2 221.9h0M956 221.9h0M963.8 221.9h0M971.5 221.9h0M979.3 221.9h0M987.1 221.9h0M994.9 221.9h0M1002.7 221.9h0M1010.5 221.9h0M1018.2 221.9h0M1026 221.9h0M1033.8 221.9h0M1041.6 221.9h0M1049.4 221.9h0M1057.2 221.9h0M1065 221.9h0M1072.7 221.9h0M1080.5 221.9h0M1088.3 221.9h0M1096.1 221.9h0M1103.9 221.9h0M1111.7 221.9h0M1119.4 221.9h0M1127.2 221.9h0M1135 221.9h0M1142.8 221.9h0M1150.6 221.9h0M1158.4 221.9h0M1166.2 221.9h0M1173.9 221.9h0M1181.7 221.9h0M1189.5 221.9h0M1197.3 221.9h0M1205.1 221.9h0M1212.9 221.9h0M1220.6 221.9h0M1228.4 221.9h0M1236.2 221.9h0M1244 221.9h0M1251.8 221.9h0M1259.6 221.9h0M1267.4 221.9h0M1275.1 221.9h0M1282.9 221.9h0M1290.7 221.9h0M1298.5 221.9h0M1306.3 221.9h0M1314.1 221.9h0M1321.8 222h0M1329.6 222h0M1337.4 222h0M1345.2 222h0M1353 222h0M1360.8 222h0M1368.6 222h0M1376.3 222h0M1384.1 222h0M1391.9 222h0M1399.7 222h0M1407.5 222h0M1415.3 222h0M1423 222.1h0M1430.8 222.1h0M1438.6 222.1h0M1446.4 222.1h0M1454.2 222.1h0M1462 222.1h0M1469.8 222.1h0M1477.5 222.2h0M1485.3 222.2h0M1493.1 222.2h0M1500.9 222.2h0M1508.7 222.3h0M1516.5 222.3h0M1524.2 222.3h0M1532 222.3h0M1539.8 222.4h0M1547.6 222.4h0M1555.4 222.5h0M1563.2 222.5h0M1571 222.6h0M1578.7 222.6h0M1586.5 222.7h0M1594.3 222.7h0M1602.1 222.8h0M1609.9 222.8h0M1617.7 222.9h0M1625.4 223h0M1633.2 223.1h0M1641 223.2h0M1648.8 223.3h0M1656.6 223.4h0M1664.4 223.5h0M1672.2 223.6h0M1679.9 223.8h0M1687.7 224h0M1695.5 224.1h0M1703.3 224.3h0M1711.1 224.6h0M1718.9 224.8h0M1726.6 225.1h0M1734.4 225.4h0M1742.2 225.8h0M1750 226.2h0M1757.8 226.6h0M1765.6 227.1h0M1773.4 227.6h0M1781.1 228.3h0M1788.9 229h0M1796.7 229.8h0M1804.5 230.7h0M1812.3 231.7h0M1820.1 232.9h0M1827.8 234.2h0M1835.6 235.7h0M1843.4 237.4h0M1851.2 239.3h0M1859 241.5h0M1866.8 244.1h0M1874.6 247h0M1882.3 250.3h0M1890.1 254.2h0M1897.9 258.6h0M1905.7 263.7h0M1913.5 269.6h0M1921.3 276.4h0M1929 284.4h0M1936.8 293.5h0M1944.6 304.2h0M1952.4 316.6h0M1960.2 331.1h0M1968 348h0M1975.8 368.6h0M1983.5 393.4h0M1991.3 422.9h0M1999.1 457.9h0M2006.9 498.4h0M2014.7 547.4h0M2022.5 604.2h0M2030.2 673.3h0M2038 754.1h0M2045.8 850.7h0M2053.6 964.5h0M2061.4 1100.2h0M2069.2 1261.8h0M2077 1452.5h0M2084.7 1677.6h0" fill="none" stroke="#008000" stroke-width="32" stroke-linecap="round"/>
<path d="M1574.8 640.8L1574.8 640.8M1582.5 684L1582.8 685.8M1589.9 729.6L1591 736.8M1597.3 780.7L1599.1 793.3M1604.9 837.3L1607.1 854.3M1612.4 898.4L1615.2 923.4M1619.9 967.6L1623.2 998.9M1627.5 1043.1L1631.2 1082M1635.1 1126.2L1639.1 1174.3M1642.7 1218.5L1647.1 1275.2M1650.3 1319.4L1655 1387.3M1658 1431.6L1663 1510.5M1665.6 1554.8L1670.9 1645.7" fill="none" stroke="#00f" stroke-width="11" stroke-linecap="round"/>
<g><use href="#t" x="232" y="224.1"/><use href="#t" x="239.8" y="224.1"/><use href="#t" x="247.6" y="224.1"/><use href="#t" x="255.4" y="224.1"/><use href="#t" x="263.1" y="224.1"/><use href="#t" x="270.9" y="224.1"/><use href="#t" x="278.7" y="224.1"/><use href="#t" x="286.5" y="224.1"/><use href="#t" x="294.3" y="224.1"/><use href="#t" x="302.1" y="224.1"/><use href="#t" x="309.8" y="224.1"/><use href="#t" x="317.6" y="224.1"/><use href="#t" x="325.4" y="224.1"/><use href="#t" x="333.2" y="224.1"/><use href="#t" x="341" y="224.1"/><use href="#t" x="348.8" y="224.1"/><use href="#t" x="356.6" y="224.1"/><use href="#t" x="364.3" y="224.1"/><use href="#t" x="372.1" y="224.1"/><use href="#t" x="379.9" y="224.1"/><use href="#t" x="387.7" y="224.1"/><use href="#t" x="395.5" y="224.1"/><use href="#t" x="403.3" y="224.1"/><use href="#t" x="411" y="224.1"/><use href="#t" x="418.8" y="224.1"/><use href="#t" x="426.6" y="224.1"/><use href="#t" x="434.4" y="224.1"/><use href="#t" x="442.2" y="224.1"/><use href="#t" x="450" y="224.1"/><use href="#t" x="457.8" y="224.1"/><use href="#t" x="465.5" y="224.1"/><use href="#t" x="473.3" y="224.1"/><use href="#t" x="481.1" y="224.1"/><use href="#t" x="488.9" y="224.1"/><use href="#t" x="496.7" y="224.1"/><use href="#t" x="504.5" y="224.1"/><use href="#t" x="512.2" y="224.1"/><use href="#t" x="520" y="224.1"/><use href="#t" x="527.8" y="224.1"/><use href="#t" x="535.6" y="224.1"/><use href="#t" x="543.4" y="224.1"/><use href="#t" x="551.2" y="224.1"/><use href="#t" x="559" y="224.1"/><use href="#t" x="566.7" y="224.1"/><use href="#t" x="574.5" y="224.1"/><use href="#t" x="582.3" y="224.1"/><use href="#t" x="590.1" y="224.1"/><use href="#t" x="597.9" y="224.1"/><use href="#t" x="605.7" y="224.1"/><use href="#t" x="613.4" y="224.1"/><use href="#t" x="621.2" y="224.1"/><use href="#t" x="629" y="224.1"/><use href="#t" x="636.8" y="224.1"/><use href="#t" x="644.6" y="224.1"/><use href="#t" x="652.4" y="224.1"/><use href="#t" x="660.2" y="224.1"/><use href="#t" x="667.9" y="224.1"/><use href="#t" x="675.7" y="224.1"/><use href="#t" x="683.5" y="224.1"/><use href="#t" x="691.3" y="224.1"/><use href="#t" x="699.1" y="224.1"/><use href="#t" x="706.9" y="224.1"/><use href="#t" x="714.6" y="224.1"/><use href="#t" x="722.4" y="224.1"/><use href="#t" x="730.2" y="224.1"/><use href="#t" x="738" y="224.1"/><use href="#t" x="745.8" y="224.1"/><use href="#t" x="753.6" y="224.1"/><use href="#t" x="761.4" y="224.1"/><use href="#t" x="769.1" y="224.1"/><use href="#t" x="776.9" y="224.1"/><use href="#t" x="784.7" y="224.1"/><use href="#t" x="792.5" y="224.1"/><use href="#t" x="800.3" y="224.1"/><use href="#t" x="808.1" y="224.2"/><use href="#t" x="815.8" y="224.2"/><use href="#t" x="823.6" y="224.2"/><use href="#t" x="831.4" y="224.2"/><use href="#t" x="839.2" y="224.2"/><use href="#t" x="847" y="224.2"/><use href="#t" x="854.8" y="224.2"/><use href="#t" x="862.6" y="224.2"/><use href="#t" x="870.3" y="224.2"/><use href="#t" x="878.1" y="224.2"/><use href="#t" x="885.9" y="224.2"/><use href="#t" x="893.7" y="224.2"/><use href="#t" x="901.5" y="224.2"/><use href="#t" x="909.3" y="224.2"/><use href="#t" x="917" y="224.2"/><use href="#t" x="924.8" y="224.2"/><use href="#t" x="932.6" y="224.2"/><use href="#t" x="940.4" y="224.2"/><use href="#t" x="948.2" y="224.3"/><use href="#t" x="956" y="224.3"/><use href="#t" x="963.8" y="224.3"/><use href="#t" x="971.5" y="224.3"/><use href="#t" x="979.3" y="224.3"/><use href="#t" x="987.1" y="224.3"/><use href="#t" x="994.9" y="224.4"/><use href="#t" x="1002.7" y="224.4"/><use href="#t" x="1010.5" y="224.4"/><use href="#t" x="1018.2" y="224.4"/><use href="#t" x="1026" y="224.5"/><use href="#t" x="1033.8" y="224.5"/><use href="#t" x="1041.6" y="224.6"/><use href="#t" x="1049.4" y="224.6"/><use href="#t" x="1057.2" y="224.6"/><use href="#t" x="1065" y="224.7"/><use href="#t" x="1072.7" y="224.8"/><use href="#t" x="1080.5" y="224.8"/><use href="#t" x="1088.3" y="224.9"/><use href="#t" x="1096.1" y="225"/><use href="#t" x="1103.9" y="225.1"/><use href="#t" x="1111.7" y="225.2"/><use href="#t" x="1119.4" y="225.3"/><use href="#t" x="1127.2" y="225.4"/><use href="#t" x="1135" y="225.6"/><use href="#t" x="1142.8" y="225.7"/><use href="#t" x="1150.6" y="225.9"/><use href="#t" x="1158.4" y="226.1"/><use href="#t" x="1166.2" y="226.3"/><use href="#t" x="1173.9" y="226.5"/><use href="#t" x="1181.7" y="226.7"/><use href="#t" x="1189.5" y="227"/><use href="#t" x="1197.3" y="227.3"/><use href="#t" x="1205.1" y="227.6"/><use href="#t" x="1212.9" y="228"/><use href="#t" x="1220.6" y="228.4"/><use href="#t" x="1228.4" y="228.9"/><use href="#t" x="1236.2" y="229.4"/><use href="#t" x="1244" y="229.9"/><use href="#t" x="1251.8" y="230.6"/><use href="#t" x="1259.6" y="231.2"/><use href="#t" x="1267.4" y="232"/><use href="#t" x="1275.1" y="232.8"/><use href="#t" x="1282.9" y="233.7"/><use href="#t" x="1290.7" y="234.8"/><use href="#t" x="1298.5" y="235.9"/><use href="#t" x="1306.3" y="237.1"/><use href="#t" x="1314.1" y="238.5"/><use href="#t" x="1321.8" y="240"/><use href="#t" x="1329.6" y="241.7"/><use href="#t" x="1337.4" y="243.6"/><use href="#t" x="1345.2" y="245.6"/><use href="#t" x="1353" y="247.9"/><use href="#t" x="1360.8" y="250.4"/><use href="#t" x="1368.6" y="253.2"/><use href="#t" x="1376.3" y="256.3"/><use href="#t" x="1384.1" y="259.7"/><use href="#t" x="1391.9" y="263.4"/><use href="#t" x="1399.7" y="267.6"/><use href="#t" x="1407.5" y="272.1"/><use href="#t" x="1415.3" y="277.2"/><use href="#t" x="1423" y="282.8"/><use href="#t" x="1430.8" y="289"/><use href="#t" x="1438.6" y="295.9"/><use href="#t" x="1446.4" y="303.4"/><use href="#t" x="1454.2" y="311.8"/><use href="#t" x="1462" y="321.1"/><use href="#t" x="1469.8" y="331.1"/><use href="#t" x="1477.5" y="343.4"/><use href="#t" x="1485.3" y="355.7"/><use href="#t" x="1493.1" y="369.4"/><use href="#t" x="1500.9" y="385.2"/><use href="#t" x="1508.7" y="401.6"/><use href="#t" x="1516.5" y="420.3"/><use href="#t" x="1524.2" y="440.8"/><use href="#t" x="1532" y="463.4"/><use href="#t" x="1539.8" y="489.4"/><use href="#t" x="1547.6" y="517.3"/><use href="#t" x="1555.4" y="548.1"/><use href="#t" x="1563.2" y="582.4"/><use href="#t" x="1571" y="619.5"/><use href="#t" x="1578.7" y="662.1"/><use href="#t" x="1586.5" y="707.6"/><use href="#t" x="1594.3" y="758.7"/><use href="#t" x="1602.1" y="815.2"/><use href="#t" x="1609.9" y="876.3"/><use href="#t" x="1617.7" y="945.5"/><use href="#t" x="1625.4" y="1021"/><use href="#t" x="1633.2" y="1104.1"/><use href="#t" x="1641" y="1196.4"/><use href="#t" x="1648.8" y="1297.3"/><use href="#t" x="1656.6" y="1409.5"/><use href="#t" x="1664.4" y="1532.6"/><use href="#t" x="1672.2" y="1667.9"/></g>
</g>
<text class="b" font-size="54.5" transform="translate(250.3 306.3) scale(0.9713 1)">Absorber doping concentration</text>
<path d="M251.5 359.7H368.5" stroke="#000" stroke-width="11" stroke-linecap="round" fill="none"/>
<circle cx="310" cy="359.7" r="15.5" fill="#000"/>
<text font-size="53" x="381" y="378" stroke="#000" stroke-width=".6">N<tspan font-size="37" dy="13.7">A</tspan><tspan dy="-13.7" dx="0.6">=10</tspan><tspan font-size="36.3" dy="-22.2" dx="0.3">14</tspan><tspan dy="22.2" dx="-1.9"> cm</tspan></text>
<text font-size="37" stroke="#000" stroke-width=".5" transform="translate(658.4 356.9) scale(0.86 1)">–3</text>
<path d="M251.5 447.02H368.5" stroke="#f00" stroke-width="11" stroke-linecap="round" fill="none"/>
<circle cx="310" cy="447.02" r="15.5" fill="#f00"/>
<text font-size="53" x="381" y="465.32" stroke="#000" stroke-width=".6">N<tspan font-size="37" dy="13.7">A</tspan><tspan dy="-13.7" dx="0.6">=10</tspan><tspan font-size="36.3" dy="-22.2" dx="0.3">15</tspan><tspan dy="22.2" dx="-1.9"> cm</tspan></text>
<text font-size="37" stroke="#000" stroke-width=".5" transform="translate(658.4 444.22) scale(0.86 1)">–3</text>
<path d="M251.5 534.34H368.5" stroke="#00f" stroke-width="11" stroke-linecap="round" fill="none"/>
<circle cx="310" cy="534.34" r="15.5" fill="#00f"/>
<text font-size="53" x="381" y="552.64" stroke="#000" stroke-width=".6">N<tspan font-size="37" dy="13.7">A</tspan><tspan dy="-13.7" dx="0.6">=10</tspan><tspan font-size="36.3" dy="-22.2" dx="0.3">16</tspan><tspan dy="22.2" dx="-1.9"> cm</tspan></text>
<text font-size="37" stroke="#000" stroke-width=".5" transform="translate(658.4 531.54) scale(0.86 1)">–3</text>
<path d="M251.5 621.66H368.5" stroke="#f0f" stroke-width="11" stroke-linecap="round" fill="none"/>
<circle cx="310" cy="621.66" r="15.5" fill="#f0f"/>
<text font-size="53" x="381" y="639.96" stroke="#000" stroke-width=".6">N<tspan font-size="37" dy="13.7">A</tspan><tspan dy="-13.7" dx="0.6">=10</tspan><tspan font-size="36.3" dy="-22.2" dx="0.3">17</tspan><tspan dy="22.2" dx="-1.9"> cm</tspan></text>
<text font-size="37" stroke="#000" stroke-width=".5" transform="translate(658.4 618.86) scale(0.86 1)">–3</text>
<path d="M251.5 708.98H368.5" stroke="#ff8000" stroke-width="11" stroke-linecap="round" fill="none"/>
<circle cx="310" cy="708.98" r="15.5" fill="#ff8000"/>
<text font-size="53" x="381" y="727.28" stroke="#000" stroke-width=".6">N<tspan font-size="37" dy="13.7">A</tspan><tspan dy="-13.7" dx="0.6">=10</tspan><tspan font-size="36.3" dy="-22.2" dx="0.3">18</tspan><tspan dy="22.2" dx="-1.9"> cm</tspan></text>
<text font-size="37" stroke="#000" stroke-width=".5" transform="translate(658.4 706.18) scale(0.86 1)">–3</text>
<path d="M251.5 796.3H368.5" stroke="#008000" stroke-width="11" stroke-linecap="round" fill="none"/>
<circle cx="310" cy="796.3" r="15.5" fill="#008000"/>
<text font-size="53" x="381" y="814.6" stroke="#000" stroke-width=".6">N<tspan font-size="37" dy="13.7">A</tspan><tspan dy="-13.7" dx="0.6">=10</tspan><tspan font-size="36.3" dy="-22.2" dx="0.3">19</tspan><tspan dy="22.2" dx="-1.9"> cm</tspan></text>
<text font-size="37" stroke="#000" stroke-width=".5" transform="translate(658.4 793.5) scale(0.86 1)">–3</text>
<path d="M251.5 883.62H291.5M331 883.62H368.5" stroke="#00f" stroke-width="11" stroke-linecap="round" fill="none"/>
<use href="#t" x="310.3" y="883.62"/>
<text font-size="53" x="381" y="901.92" stroke="#000" stroke-width=".6">N<tspan font-size="37" dy="13.7">A</tspan><tspan dy="-13.7" dx="0.6">=10</tspan><tspan font-size="36.3" dy="-22.2" dx="0.3">20</tspan><tspan dy="22.2" dx="-1.9"> cm</tspan></text>
<text font-size="37" stroke="#000" stroke-width=".5" transform="translate(658.4 880.82) scale(0.86 1)">–3</text>
<text class="b" font-size="73" x="404" y="1011.9">(b)</text>
<path d="M591.5 926.1V1462.5M579 1462.5H1377.9M579 1409.05H591.5M579 1355.6H591.5M579 1302.15H591.5M579 1248.7H591.5M579 1195.25H591.5M579 1141.8H591.5M579 1088.35H591.5M579 1034.9H591.5M579 981.45H591.5M579 928H591.5M603.3 1462.5V1472.8M726.05 1462.5V1472.8M848.8 1462.5V1472.8M971.55 1462.5V1472.8M1094.3 1462.5V1472.8M1217.05 1462.5V1472.8M1339.8 1462.5V1472.8" fill="none" stroke="#000" stroke-width="3.1"/>
<text class="b" font-size="23.6" text-anchor="end" transform="translate(571.2 1468.1) scale(1.22 1)">17</text>
<text class="b" font-size="23.6" text-anchor="end" transform="translate(571.2 1414.65) scale(1.22 1)">18</text>
<text class="b" font-size="23.6" text-anchor="end" transform="translate(571.2 1361.2) scale(1.22 1)">19</text>
<text class="b" font-size="23.6" text-anchor="end" transform="translate(571.2 1307.75) scale(1.22 1)">20</text>
<text class="b" font-size="23.6" text-anchor="end" transform="translate(571.2 1254.3) scale(1.22 1)">21</text>
<text class="b" font-size="23.6" text-anchor="end" transform="translate(571.2 1200.85) scale(1.22 1)">22</text>
<text class="b" font-size="23.6" text-anchor="end" transform="translate(571.2 1147.4) scale(1.22 1)">23</text>
<text class="b" font-size="23.6" text-anchor="end" transform="translate(571.2 1093.95) scale(1.22 1)">24</text>
<text class="b" font-size="23.6" text-anchor="end" transform="translate(571.2 1040.5) scale(1.22 1)">25</text>
<text class="b" font-size="23.6" text-anchor="end" transform="translate(571.2 987.05) scale(1.22 1)">26</text>
<text class="b" font-size="23.6" text-anchor="end" transform="translate(571.2 933.6) scale(1.22 1)">27</text>
<text class="b" font-size="23.6" text-anchor="middle" transform="translate(603.8 1500.9) scale(1.16 1)">10<tspan font-size="15.6" dy="-9">14</tspan></text>
<text class="b" font-size="23.6" text-anchor="middle" transform="translate(726.55 1500.9) scale(1.16 1)">10<tspan font-size="15.6" dy="-9">15</tspan></text>
<text class="b" font-size="23.6" text-anchor="middle" transform="translate(849.3 1500.9) scale(1.16 1)">10<tspan font-size="15.6" dy="-9">16</tspan></text>
<text class="b" font-size="23.6" text-anchor="middle" transform="translate(972.05 1500.9) scale(1.16 1)">10<tspan font-size="15.6" dy="-9">17</tspan></text>
<text class="b" font-size="23.6" text-anchor="middle" transform="translate(1094.8 1500.9) scale(1.16 1)">10<tspan font-size="15.6" dy="-9">18</tspan></text>
<text class="b" font-size="23.6" text-anchor="middle" transform="translate(1217.55 1500.9) scale(1.16 1)">10<tspan font-size="15.6" dy="-9">19</tspan></text>
<text class="b" font-size="23.6" text-anchor="middle" transform="translate(1340.3 1500.9) scale(1.16 1)">10<tspan font-size="15.6" dy="-9">20</tspan></text>
<text class="b" font-size="27.5" text-anchor="middle" transform="translate(983.4 1548.3) scale(1.1915 1)">Absorber doping concentration N<tspan font-size="19" dy="6.5">A</tspan><tspan dy="-6.5"> / cm</tspan><tspan font-size="19" dy="-11.6" font-weight="400">–</tspan><tspan font-size="19" dx="-1">3</tspan></text>
<text class="b" font-size="27.5" text-anchor="middle" transform="translate(527 1194.6) rotate(-90) scale(1 1.22)">PCE / %</text>
<g clip-path="url(#ci)" fill="#008000">
<polyline points="603.3,1217.7 664.67,1216.63 726.05,1209.15 787.42,1184.56 848.8,1162.65 910.17,1135.39 971.55,1108.66 1032.92,1073.38 1094.3,1040.78 1155.67,1003.9 1217.05,975.57 1278.42,1024.21 1339.8,1391.41" fill="none" stroke="#008000" stroke-width="6.2" stroke-linejoin="round"/>
<ellipse cx="603.3" cy="1217.7" rx="13.6" ry="11.6"/>
<ellipse cx="664.67" cy="1216.63" rx="13.6" ry="11.6"/>
<ellipse cx="726.05" cy="1209.15" rx="13.6" ry="11.6"/>
<ellipse cx="787.42" cy="1184.56" rx="13.6" ry="11.6"/>
<ellipse cx="848.8" cy="1162.65" rx="13.6" ry="11.6"/>
<ellipse cx="910.17" cy="1135.39" rx="13.6" ry="11.6"/>
<ellipse cx="971.55" cy="1108.66" rx="13.6" ry="11.6"/>
<ellipse cx="1032.92" cy="1073.38" rx="13.6" ry="11.6"/>
<ellipse cx="1094.3" cy="1040.78" rx="13.6" ry="11.6"/>
<ellipse cx="1155.67" cy="1003.9" rx="13.6" ry="11.6"/>
<ellipse cx="1217.05" cy="975.57" rx="13.6" ry="11.6"/>
<ellipse cx="1278.42" cy="1024.21" rx="13.6" ry="11.6"/>
<ellipse cx="1339.8" cy="1391.41" rx="13.6" ry="11.6"/>
</g>
</svg></body></html>
